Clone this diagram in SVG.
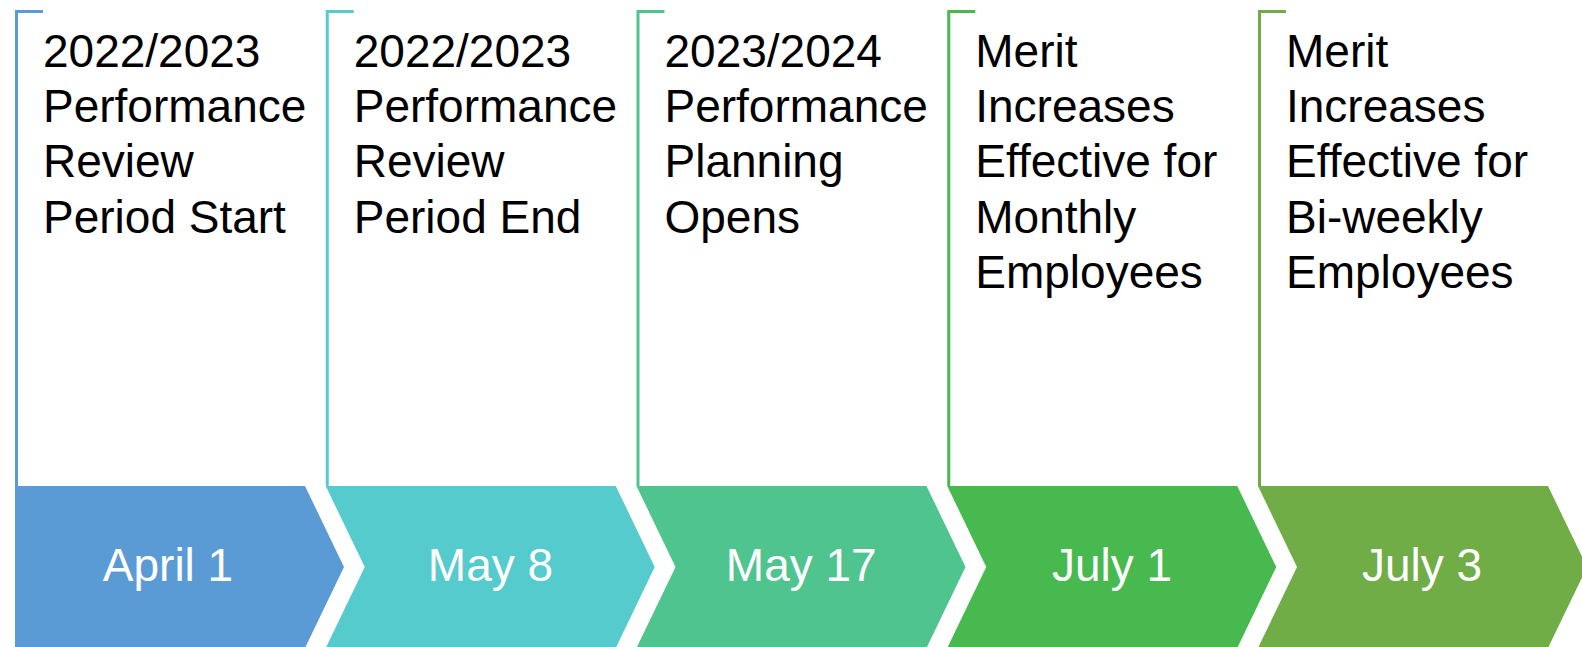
<svg xmlns="http://www.w3.org/2000/svg" width="1582" height="647" viewBox="0 0 1582 647">
<style>
.lbl{font-family:"Liberation Sans",Arial,sans-serif;font-size:46px;fill:#000}
.date{font-family:"Liberation Sans",Arial,sans-serif;font-size:46px;fill:#fff;text-anchor:middle}
.br{fill:none;stroke-width:3}
</style>
<rect width="1582" height="647" fill="#fff"/>
<g id="connectors">
<path class="br" stroke="#5B9BD5" d="M43,11.5 H16.5 V486"/>
<path class="br" stroke="#55CBCD" d="M353.75,11.5 H327.25 V486"/>
<path class="br" stroke="#50C48E" d="M664.5,11.5 H638 V486"/>
<path class="br" stroke="#48B94F" d="M975.25,11.5 H948.75 V486"/>
<path class="br" stroke="#70AD47" d="M1286,11.5 H1259.5 V486"/>
</g>
<g id="n1">
<path fill="#5B9BD5" d="M15,486 H305 L344,567 L305,648 H15 Z"/>
<text class="date" x="168" y="581">April 1</text>
<text class="lbl" x="43" y="67">2022/2023</text>
<text class="lbl" x="43" y="122">Performance</text>
<text class="lbl" x="43" y="177">Review</text>
<text class="lbl" x="43" y="233">Period Start</text>
</g>
<g id="n2">
<path fill="#55CBCD" d="M325.75,486 H615.75 L654.75,567 L615.75,648 H325.75 L364.75,567 Z"/>
<text class="date" x="490.5" y="581">May 8</text>
<text class="lbl" x="353.75" y="67">2022/2023</text>
<text class="lbl" x="353.75" y="122">Performance</text>
<text class="lbl" x="353.75" y="177">Review</text>
<text class="lbl" x="353.75" y="233">Period End</text>
</g>
<g id="n3">
<path fill="#50C48E" d="M636.5,486 H926.5 L965.5,567 L926.5,648 H636.5 L675.5,567 Z"/>
<text class="date" x="801.3" y="581">May 17</text>
<text class="lbl" x="664.5" y="67">2023/2024</text>
<text class="lbl" x="664.5" y="122">Performance</text>
<text class="lbl" x="664.5" y="177">Planning</text>
<text class="lbl" x="664.5" y="233">Opens</text>
</g>
<g id="n4">
<path fill="#48B94F" d="M947.25,486 H1237.25 L1276.25,567 L1237.25,648 H947.25 L986.25,567 Z"/>
<text class="date" x="1112" y="581">July 1</text>
<text class="lbl" x="975.25" y="67">Merit</text>
<text class="lbl" x="975.25" y="122">Increases</text>
<text class="lbl" x="975.25" y="177">Effective for</text>
<text class="lbl" x="975.25" y="233">Monthly</text>
<text class="lbl" x="975.25" y="288">Employees</text>
</g>
<g id="n5">
<path fill="#70AD47" d="M1258,486 H1548 L1587,567 L1548,648 H1258 L1297,567 Z"/>
<text class="date" x="1422" y="581">July 3</text>
<text class="lbl" x="1286" y="67">Merit</text>
<text class="lbl" x="1286" y="122">Increases</text>
<text class="lbl" x="1286" y="177">Effective for</text>
<text class="lbl" x="1286" y="233">Bi-weekly</text>
<text class="lbl" x="1286" y="288">Employees</text>
</g>
</svg>
